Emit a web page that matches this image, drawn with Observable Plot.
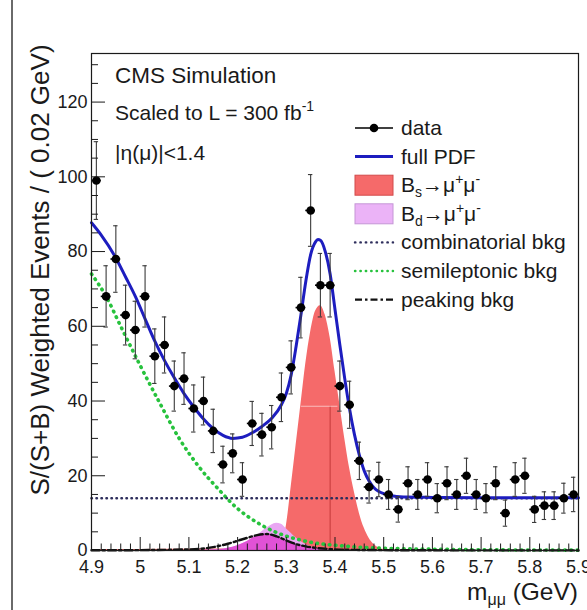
<!DOCTYPE html>
<html>
<head>
<meta charset="utf-8">
<script src="https://cdn.jsdelivr.net/npm/d3@7"></script>
<script src="https://cdn.jsdelivr.net/npm/@observablehq/plot@0.6"></script>
<style>
  html, body { margin: 0; padding: 0; background: #fff; }
  #fig { position: relative; width: 587px; height: 610px; overflow: hidden; }
</style>
</head>
<body>
<div id="fig"></div>
<script>
// ---- binned pseudo-data: 0.02 GeV bins between 4.9 and 5.9 GeV ----
const massBins = [4.91, 4.93, 4.95, 4.97, 4.99, 5.01, 5.03, 5.05, 5.07, 5.09,
                  5.11, 5.13, 5.15, 5.17, 5.19, 5.21, 5.23, 5.25, 5.27, 5.29,
                  5.31, 5.33, 5.35, 5.37, 5.39, 5.41, 5.43, 5.45, 5.47, 5.49,
                  5.51, 5.53, 5.55, 5.57, 5.59, 5.61, 5.63, 5.65, 5.67, 5.69,
                  5.71, 5.73, 5.75, 5.77, 5.79, 5.81, 5.83, 5.85, 5.87, 5.89];
const events = [99, 68, 78, 63, 59, 68, 52, 55, 44, 46,
                38, 40, 32, 23, 26, 19, 34, 31, 33, 41,
                49, 65, 91, 71, 71, 44, 39, 24, 17, 19,
                15, 11, 18, 15, 19, 14, 18, 15, 20, 15,
                14, 18, 10, 19, 20, 11, 12, 12, 14, 15];
const eventErr = [10.4, 8.2, 8.9, 8.0, 7.7, 8.2, 7.3, 7.5, 6.7, 6.9,
                  6.3, 6.4, 5.8, 4.9, 5.2, 4.5, 5.9, 5.7, 5.8, 6.5,
                  7.1, 8.1, 9.6, 8.5, 8.5, 6.7, 6.3, 5.0, 4.3, 4.6,
                  4.0, 3.4, 4.4, 4.0, 4.5, 3.9, 4.4, 4.0, 4.7, 4.0,
                  3.9, 4.4, 3.5, 4.5, 4.7, 3.5, 3.7, 3.7, 4.0, 4.6];

// ---- fit components (sampled curves) ----
const pdfMass = [4.90, 4.92, 4.95, 4.97, 4.99, 5.01, 5.03, 5.05, 5.07, 5.09,
                 5.11, 5.13, 5.15, 5.17, 5.19, 5.21, 5.23, 5.25, 5.27, 5.29,
                 5.30, 5.31, 5.32, 5.33, 5.34, 5.35, 5.36, 5.365, 5.37, 5.38,
                 5.39, 5.40, 5.41, 5.42, 5.43, 5.44, 5.45, 5.46, 5.47, 5.48,
                 5.49, 5.50, 5.52, 5.55, 5.60, 5.70, 5.90];
const pdfVal  = [87.7, 84.4, 78.3, 73.2, 68.0, 62.0, 56.0, 50.8, 46.2, 42.0,
                 38.4, 35.2, 32.6, 30.8, 30.0, 30.3, 31.5, 33.2, 35.4, 39.0,
                 42.0, 47.0, 54.5, 63.0, 72.0, 79.2, 82.6, 83.2, 83.0, 80.0,
                 74.0, 64.5, 55.0, 46.0, 37.8, 31.0, 25.5, 21.3, 18.6, 16.8,
                 15.8, 15.2, 14.6, 14.3, 14.2, 14.1, 14.1];

const bsMass = [4.90, 5.00, 5.10, 5.20, 5.26, 5.28, 5.29, 5.30, 5.31, 5.32,
                5.33, 5.34, 5.35, 5.36, 5.37, 5.38, 5.39, 5.40, 5.41, 5.42,
                5.43, 5.44, 5.45, 5.46, 5.47, 5.48, 5.49, 5.50, 5.55, 5.90];
const bsVal  = [0.3, 0.3, 0.35, 0.4, 0.5, 0.6, 1.2, 6.5, 17, 28,
                39, 50, 58.5, 64, 65.5, 63, 57, 48, 39, 30,
                22, 15.5, 10, 6, 3.3, 1.6, 0.7, 0.3, 0.1, 0];

const bdMass = [5.10, 5.16, 5.18, 5.20, 5.22, 5.24, 5.26, 5.28, 5.29, 5.30,
                5.32, 5.34, 5.36, 5.38, 5.40];
const bdVal  = [0, 0.2, 0.6, 1.3, 2.4, 4.0, 6.0, 7.3, 7.0, 5.8,
                3.4, 1.6, 0.6, 0.2, 0];

const combMass = [4.90, 5.90];
const combVal  = [14.0, 14.0];

const semiMass = [4.90, 4.93, 4.96, 5.00, 5.04, 5.08, 5.12, 5.16, 5.20, 5.24,
                  5.28, 5.32, 5.36, 5.40, 5.45, 5.50, 5.60, 5.70, 5.90];
const semiVal  = [74, 68, 60, 49.5, 39.5, 30, 22.5, 16.5, 11.2, 7.5,
                  4.8, 3.1, 2.0, 1.4, 0.9, 0.6, 0.35, 0.2, 0.1];

const peakMass = [4.90, 5.00, 5.10, 5.14, 5.18, 5.20, 5.22, 5.24, 5.26, 5.28,
                  5.30, 5.32, 5.34, 5.36, 5.40, 5.45, 5.60, 5.90];
const peakVal  = [0.05, 0.1, 0.3, 0.7, 1.8, 2.6, 3.4, 4.1, 4.4, 3.8,
                  2.7, 1.7, 1.1, 0.7, 0.3, 0.15, 0.05, 0.02];

// thin marker lines drawn inside the Bs peak
const bsMarkMass = 5.39;
const bsMarkLevel = 38.6;
const bsMarkSpan = [5.331, 5.406];

// ---- axes ----
const xDomain = [4.9, 5.9];
const yDomain = [0, 133];
const xMajor = [4.9, 5.0, 5.1, 5.2, 5.3, 5.4, 5.5, 5.6, 5.7, 5.8, 5.9];
const xMinorStep = 0.02;
const yMajor = [0, 20, 40, 60, 80, 100, 120];
const yMinorStep = 5;

// ---- layout ----
const W = 587, H = 610;
const mL = 91, mR = 9, mT = 53, mB = 60;
const FONT = "'Liberation Sans', Arial, Helvetica, sans-serif";
const INK = "#1a1a1a";
const DOTS = "0.6,5.6";

const zip = (xs, ys) => xs.map((m, i) => ({m, v: ys[i]}));
const dataRows = massBins.map((m, i) => ({m, v: events[i], e: eventErr[i]}));
const pdfRows = zip(pdfMass, pdfVal);
const bsRows = zip(bsMass, bsVal);
const bdRows = zip(bdMass, bdVal);
const combRows = zip(combMass, combVal);
const semiRows = zip(semiMass, semiVal);
const peakRows = zip(peakMass, peakVal);
// part of the Bd shape lying under the peaking background
const peakAt = d3.scaleLinear().domain(peakMass).range(peakVal);
const bdUnderPeak = bdRows.map(d => ({m: d.m, v: Math.min(d.v, peakAt(d.m))}));

// pixel lengths of the inward ROOT-style ticks, expressed in data units
const yPerPx = (yDomain[1] - yDomain[0]) / (H - mT - mB);
const xPerPx = (xDomain[1] - xDomain[0]) / (W - mL - mR);

const xMinor = d3.range(0, 51).map(i => +(xDomain[0] + i * xMinorStep).toFixed(2))
  .filter(v => !xMajor.some(t => Math.abs(t - v) < 1e-6));
const yMinor = d3.range(0, 27).map(i => i * yMinorStep).filter(v => v % 20 !== 0);

const halfBin = 0.01;
const capHalf = 2.2 * xPerPx;

const plot = Plot.plot({
  width: W, height: H,
  marginLeft: mL, marginRight: mR, marginTop: mT, marginBottom: mB,
  x: {domain: xDomain},
  y: {domain: yDomain},
  style: {fontFamily: FONT, background: "transparent", color: INK},
  marks: [
    // signal and peaking components
    Plot.areaY(bsRows, {x: "m", y: "v", fill: "#f56a6a", curve: "monotone-x"}),
    Plot.ruleX([bsMarkMass], {y1: 0, y2: bsMarkLevel, stroke: "#c53a3a", strokeWidth: 1}),
    Plot.ruleY([bsMarkLevel], {x1: bsMarkSpan[0], x2: bsMarkSpan[1], stroke: "#fff", strokeOpacity: 0.55, strokeWidth: 1}),
    Plot.areaY(bdRows, {x: "m", y: "v", fill: "#e9a6f3", curve: "monotone-x"}),
    Plot.areaY(bdUnderPeak, {x: "m", y: "v", fill: "#e152d6", curve: "monotone-x"}),

    // background components
    Plot.line(semiRows, {x: "m", y: "v", stroke: "#27c23d", strokeWidth: 3.6,
      strokeDasharray: DOTS, strokeLinecap: "round", curve: "monotone-x"}),
    Plot.line(combRows, {x: "m", y: "v", stroke: "#2e2e5c", strokeWidth: 2.6,
      strokeDasharray: "0.4,4.6", strokeLinecap: "round"}),
    Plot.line(peakRows, {x: "m", y: "v", stroke: "#111", strokeWidth: 2.4,
      strokeDasharray: "8,3,2.5,3", curve: "monotone-x"}),

    // full fit
    Plot.line(pdfRows, {x: "m", y: "v", stroke: "#1d1dbf", strokeWidth: 3, curve: "monotone-x"}),

    // data with error bars
    Plot.ruleX(dataRows, {x: "m", y1: d => d.v - d.e, y2: d => d.v + d.e, stroke: "#3a3a3a", strokeWidth: 1.1}),
    Plot.ruleY(dataRows, {y: d => d.v + d.e, x1: d => d.m - capHalf, x2: d => d.m + capHalf, stroke: "#3a3a3a", strokeWidth: 1.1}),
    Plot.ruleY(dataRows, {y: d => d.v - d.e, x1: d => d.m - capHalf, x2: d => d.m + capHalf, stroke: "#3a3a3a", strokeWidth: 1.1}),
    Plot.ruleY(dataRows, {y: "v", x1: d => d.m - halfBin, x2: d => d.m + halfBin, stroke: "#000", strokeWidth: 1.6}),
    Plot.dot(dataRows, {x: "m", y: "v", r: 4.3, fill: "#000", stroke: "none"}),

    // inward ticks
    Plot.ruleX(xMajor, {x: d => d, y1: yDomain[0], y2: yDomain[0] + 13 * yPerPx, stroke: INK, strokeWidth: 1}),
    Plot.ruleX(xMinor, {x: d => d, y1: yDomain[0], y2: yDomain[0] + 6.5 * yPerPx, stroke: INK, strokeWidth: 1}),
    Plot.ruleY(yMajor, {y: d => d, x1: xDomain[0], x2: xDomain[0] + 14 * xPerPx, stroke: INK, strokeWidth: 1}),
    Plot.ruleY(yMinor, {y: d => d, x1: xDomain[0], x2: xDomain[0] + 7 * xPerPx, stroke: INK, strokeWidth: 1}),

    Plot.frame({stroke: INK, strokeWidth: 1.2}),

    Plot.axisX({ticks: xMajor, tickSize: 0, tickPadding: 10, fontSize: 18, label: null,
      tickFormat: d => String(+d.toFixed(1)), fill: INK}),
    Plot.axisY({ticks: yMajor, tickSize: 0, tickPadding: 4, fontSize: 18, label: null,
      tickFormat: d => String(d), fill: INK})
  ]
});

document.getElementById("fig").appendChild(plot);

// ---- texts, legend and titles ----
const svg = d3.select(plot);
const over = svg.append("g").attr("font-family", FONT).attr("fill", INK);

// text with sub/superscript pieces: [text, size, baselineShift]
function richText(g, x, y, pieces, anchor) {
  const t = g.append("text").attr("x", x).attr("y", y)
    .attr("text-anchor", anchor || "start");
  let shift = 0;
  for (const [s, size, sh] of pieces) {
    t.append("tspan").attr("font-size", size).attr("dy", (sh - shift)).text(s);
    shift = sh;
  }
  return t;
}

const FS = 21, SS = 14;

// page edge
over.append("line").attr("x1", 12).attr("x2", 12).attr("y1", 0).attr("y2", H)
  .attr("stroke", "#6a6a6a").attr("stroke-width", 2);

richText(over, 115, 83, [["CMS Simulation", 22.5, 0]]);
richText(over, 115, 120, [["Scaled to L = 300 fb", FS, 0], ["-1", SS, -9]]);
richText(over, 115, 160, [["|\u03b7(\u03bc)|<1.4", FS, 0]]);

// y-axis title
over.append("text")
  .attr("transform", "translate(49,270) rotate(-90)")
  .attr("text-anchor", "middle").attr("font-size", 26)
  .text("S/(S+B) Weighted Events / ( 0.02 GeV)");

// x-axis title
richText(over, 578, 600, [["m", 24.5, 0], ["\u03bc\u03bc", 16, 5], [" (GeV)", 24.5, 0]], "end");

// legend
const legX0 = 355, legX1 = 393, legText = 401, legBase = 135, legStep = 28.6;
const rowY = i => legBase + i * legStep;
const leg = over.append("g");

// data
leg.append("line").attr("x1", legX0).attr("x2", legX1).attr("y1", rowY(0) - 7).attr("y2", rowY(0) - 7)
  .attr("stroke", "#000").attr("stroke-width", 1.4);
leg.append("circle").attr("cx", (legX0 + legX1) / 2).attr("cy", rowY(0) - 7).attr("r", 4.3).attr("fill", "#000");
richText(leg, legText, rowY(0), [["data", FS, 0]]);

// full PDF
leg.append("line").attr("x1", legX0).attr("x2", legX1).attr("y1", rowY(1) - 7).attr("y2", rowY(1) - 7)
  .attr("stroke", "#1d1dbf").attr("stroke-width", 3);
richText(leg, legText, rowY(1), [["full PDF", FS, 0]]);

// Bs
leg.append("rect").attr("x", legX0).attr("y", rowY(2) - 17).attr("width", legX1 - legX0).attr("height", 20)
  .attr("fill", "#f56a6a").attr("stroke", "#d24a4a").attr("stroke-width", 1);
richText(leg, legText, rowY(2), [["B", FS, 0], ["s", SS, 5], ["\u2192\u03bc", FS, 0], ["+", SS, -8], ["\u03bc", FS, 0], ["-", SS, -8]]);

// Bd
leg.append("rect").attr("x", legX0).attr("y", rowY(3) - 17).attr("width", legX1 - legX0).attr("height", 20)
  .attr("fill", "#ebb3f7").attr("stroke", "#c596d6").attr("stroke-width", 1);
richText(leg, legText, rowY(3), [["B", FS, 0], ["d", SS, 5], ["\u2192\u03bc", FS, 0], ["+", SS, -8], ["\u03bc", FS, 0], ["-", SS, -8]]);

// combinatorial
leg.append("line").attr("x1", legX0).attr("x2", legX1).attr("y1", rowY(4) - 7).attr("y2", rowY(4) - 7)
  .attr("stroke", "#2e2e5c").attr("stroke-width", 2.4).attr("stroke-dasharray", "0.4,5").attr("stroke-linecap", "round");
richText(leg, legText, rowY(4), [["combinatorial bkg", FS, 0]]);

// semileptonic
leg.append("line").attr("x1", legX0).attr("x2", legX1).attr("y1", rowY(5) - 7).attr("y2", rowY(5) - 7)
  .attr("stroke", "#27c23d").attr("stroke-width", 2.4).attr("stroke-dasharray", "0.4,5").attr("stroke-linecap", "round");
richText(leg, legText, rowY(5), [["semileptonic bkg", FS, 0]]);

// peaking
leg.append("line").attr("x1", legX0).attr("x2", legX1).attr("y1", rowY(6) - 7).attr("y2", rowY(6) - 7)
  .attr("stroke", "#111").attr("stroke-width", 2.4).attr("stroke-dasharray", "7,3,2.5,3");
richText(leg, legText, rowY(6), [["peaking bkg", FS, 0]]);
</script>
</body>
</html>
